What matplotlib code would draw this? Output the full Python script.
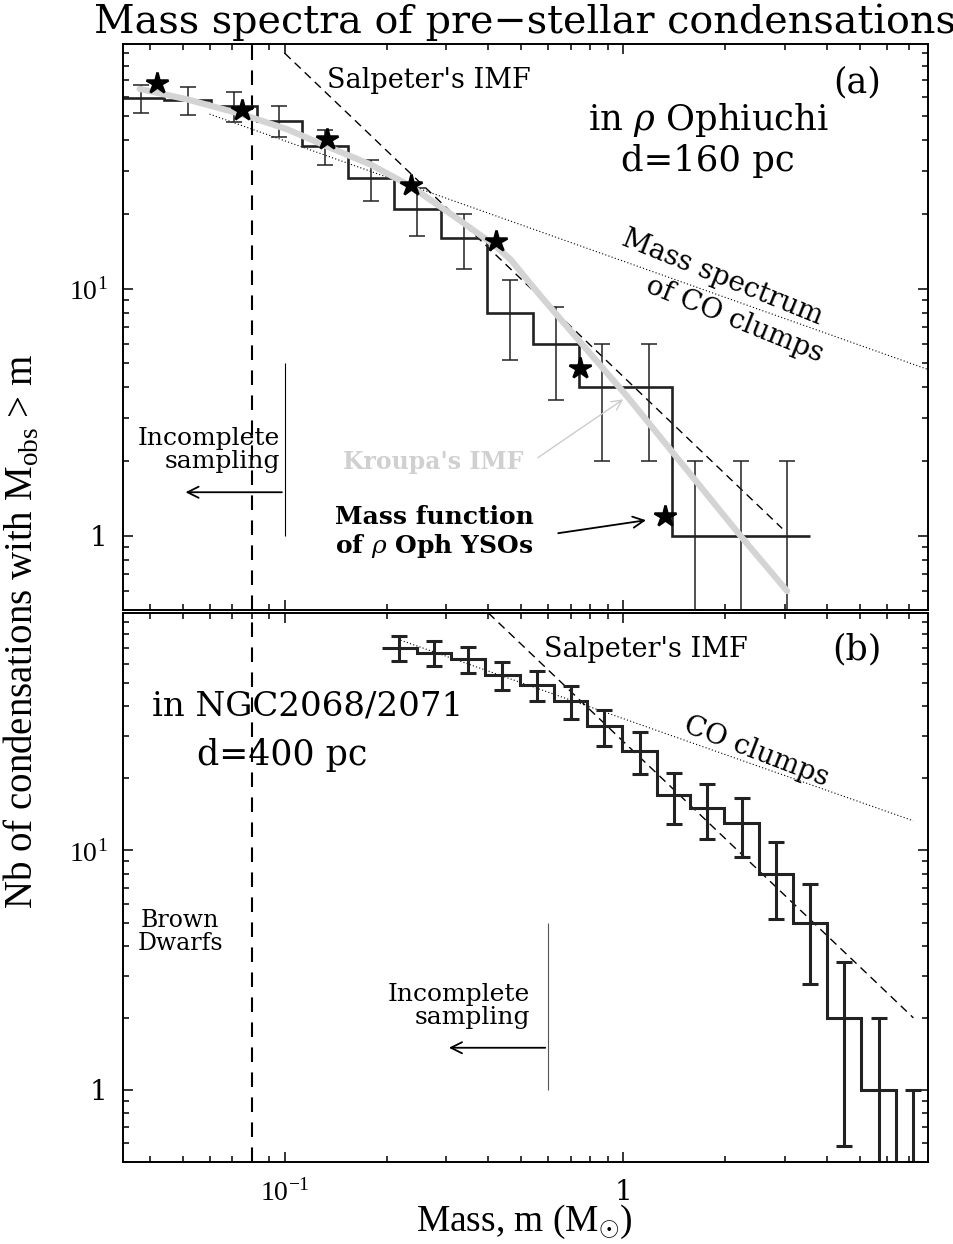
import matplotlib
matplotlib.use("Agg")
import matplotlib.pyplot as plt
from matplotlib.ticker import FixedLocator, FixedFormatter, LogLocator, NullFormatter
import numpy as np

plt.rcParams['font.family'] = ['DejaVu Serif']
plt.rcParams['mathtext.fontset'] = 'custom'
plt.rcParams['mathtext.rm'] = 'Liberation Serif'
plt.rcParams['mathtext.it'] = 'DejaVu Serif:italic'
plt.rcParams['mathtext.bf'] = 'DejaVu Serif:bold'

# ---- panel (a): rho Ophiuchi ----
oph_mass = [0.0377, 0.0517, 0.0710, 0.0964, 0.132, 0.180, 0.246, 0.339,
            0.463, 0.633, 0.867, 1.19, 1.63, 2.23, 3.05]
oph_count = [59, 58, 55, 48, 38, 28, 21, 16, 8, 6, 4, 4, 1, 1, 1]

yso_mass = [0.042, 0.075, 0.133, 0.236, 0.42, 0.748, 1.33]
yso_count = [68, 53, 40.5, 26.4, 15.6, 4.79, 1.2]

kroupa_mass = [0.0373, 0.0518, 0.0752, 0.102, 0.133, 0.180, 0.236, 0.316,
               0.420, 0.466, 0.571, 1.027, 2.22, 3.05]
kroupa_count = [64.5, 58.4, 50.8, 44.2, 37.8, 31.8, 26.0, 19.7,
                14.9, 13.1, 9.33, 3.67, 1.0, 0.597]

salp_a_mass = [0.1, 2.95]
salp_a_count = [90, 1.07]
co_a_mass = [0.06, 7.96]
co_a_count = [51, 4.71]

# ---- panel (b): NGC2068/2071 ----
ngc_mass = [0.218, 0.276, 0.348, 0.44, 0.557, 0.70, 0.877, 1.12,
            1.41, 1.77, 2.24, 2.83, 3.57, 4.50, 5.68, 7.16]
ngc_count = [70, 67, 63, 54, 49, 42, 33, 26, 17, 15, 13, 8, 5, 2, 1, 0]

salp_b_mass = [0.4, 7.2]
salp_b_count = [98, 2.0]
co_b_mass = [0.22, 7.19]
co_b_count = [75.5, 13.3]

bd_limit = 0.08
incomplete_a = [0.1, 0.05]   # completeness limit, arrow tip
incomplete_b = [0.6, 0.3]

xlim = (0.0333, 7.95)
ylim = (0.5, 98)
ink = '#222222'


def draw_hist(ax, mass, count, lw, bar_lw, cap):
    lm = np.log10(mass)
    mid = (lm[1:] + lm[:-1]) / 2
    edges = np.concatenate([[2 * lm[0] - mid[0]], mid, [2 * lm[-1] - mid[-1]]])
    n = np.array(count, float)
    ax.stairs(np.clip(n, 1e-3, None), 10 ** edges, baseline=None,
              color=ink, lw=lw, zorder=2)
    err = np.sqrt(np.maximum(n, 1))
    lo = np.maximum(n - err, ylim[0])
    hi = n + err
    ax.vlines(mass, lo, hi, color=ink, lw=bar_lw, zorder=2)
    ax.plot(mass, lo, '_', ms=cap, mew=bar_lw, color=ink, zorder=2)
    ax.plot(mass, hi, '_', ms=cap, mew=bar_lw, color=ink, zorder=2)


def setup(ax):
    ax.set_xscale('log')
    ax.set_yscale('log')
    ax.set_xlim(*xlim)
    ax.set_ylim(*ylim)
    ax.xaxis.set_major_locator(FixedLocator([0.1, 1]))
    ax.xaxis.set_minor_locator(LogLocator(base=10, subs=np.arange(2, 10), numticks=30))
    ax.yaxis.set_major_locator(FixedLocator([1, 10]))
    ax.yaxis.set_major_formatter(FixedFormatter(['1', '$10^{1}$']))
    ax.yaxis.set_minor_locator(LogLocator(base=10, subs=np.arange(2, 10), numticks=30))
    ax.xaxis.set_minor_formatter(NullFormatter())
    ax.yaxis.set_minor_formatter(NullFormatter())
    ax.tick_params(which='both', direction='in', top=True, right=True, width=1.1)
    ax.tick_params(which='major', length=7.5, labelsize=20)
    ax.tick_params(which='minor', length=4.5)
    ax.tick_params(axis='y', pad=11)
    ax.tick_params(axis='x', pad=12)
    for s in ax.spines.values():
        s.set_linewidth(1.4)
    ax.axvline(bd_limit, color='k', lw=1.5, ls=(0, (7, 5)), zorder=1)


fig = plt.figure(figsize=(9.54, 12.44), dpi=100)
ax1 = fig.add_axes([0.1289, 0.5096, 0.8438, 0.4550])
ax2 = fig.add_axes([0.1289, 0.0659, 0.8438, 0.4413])
setup(ax1)
setup(ax2)
ax1.xaxis.set_major_formatter(NullFormatter())
ax2.xaxis.set_major_formatter(FixedFormatter(['$10^{-1}$', '1']))

# panel (a)
ax1.plot(co_a_mass, co_a_count, color='k', lw=0.8, ls=(0, (1, 2)), zorder=1)
ax1.plot(salp_a_mass, salp_a_count, color='k', lw=1.0, ls=(0, (6, 4)), zorder=1)
draw_hist(ax1, oph_mass, oph_count, lw=1.9, bar_lw=1.1, cap=11)
ax1.plot(kroupa_mass, kroupa_count, color='#d4d4d4', lw=4.5,
         solid_capstyle='round', zorder=3)
ax1.plot(yso_mass, yso_count, '*', ms=16, color='k', mew=1.8, zorder=5)

ax1.vlines(incomplete_a[0], 1, 5, color='k', lw=0.8)
ax1.annotate('', xy=(incomplete_a[1], 1.5), xytext=(incomplete_a[0], 1.5),
             arrowprops=dict(arrowstyle='->', lw=1.3, color='k', mutation_scale=20))
ax1.annotate('', xy=(1.19, 1.16), xytext=(0.631, 1.02),
             arrowprops=dict(arrowstyle='->', lw=1.3, color='k', mutation_scale=20))
ax1.annotate('', xy=(1.016, 3.62), xytext=(0.551, 2.04),
             arrowprops=dict(arrowstyle='->', lw=1.0, color='#cccccc', mutation_scale=18))

t = ax1.transAxes
ax1.text(0.380, 0.935, "Salpeter's IMF", transform=t, ha='center', va='center', fontsize=19.5)
ax1.text(0.912, 0.933, "(a)", transform=t, ha='center', va='center', fontsize=25)
ax1.text(0.727, 0.866, r"in $\rho$ Ophiuchi", transform=t, ha='center', va='center', fontsize=25.5)
ax1.text(0.727, 0.793, "d=160 pc", transform=t, ha='center', va='center', fontsize=25.5)
ax1.text(0.745, 0.587, "Mass spectrum", transform=t, ha='center', va='center',
         fontsize=20, rotation=-22)
ax1.text(0.760, 0.512, "of CO clumps", transform=t, ha='center', va='center',
         fontsize=20, rotation=-22)
ax1.text(0.386, 0.262, "Kroupa's IMF", transform=t, ha='center', va='center',
         fontsize=17, fontweight='bold', color='#d0d0d0')
ax1.text(0.387, 0.137, "Mass function\n" + r"of $\rho$ Oph YSOs", transform=t,
         ha='center', va='center', fontsize=18, fontweight='bold', linespacing=1.1)
ax1.text(0.195, 0.283, "Incomplete\nsampling", transform=t, ha='right', va='center',
         fontsize=18, multialignment='right', linespacing=1.0)

# panel (b)
ax2.plot(co_b_mass, co_b_count, color='k', lw=0.8, ls=(0, (1, 2)), zorder=1)
ax2.plot(salp_b_mass, salp_b_count, color='k', lw=1.0, ls=(0, (6, 4)), zorder=1)
draw_hist(ax2, ngc_mass, ngc_count, lw=2.2, bar_lw=2.2, cap=12)

ax2.vlines(incomplete_b[0], 1, 5, color='#555555', lw=0.8)
ax2.annotate('', xy=(incomplete_b[1], 1.5), xytext=(incomplete_b[0], 1.5),
             arrowprops=dict(arrowstyle='->', lw=1.3, color='k', mutation_scale=20))

t = ax2.transAxes
ax2.text(0.650, 0.933, "Salpeter's IMF", transform=t, ha='center', va='center', fontsize=19.5)
ax2.text(0.912, 0.933, "(b)", transform=t, ha='center', va='center', fontsize=25)
ax2.text(0.229, 0.829, "in NGC2068/2071", transform=t, ha='center', va='center', fontsize=24.5)
ax2.text(0.198, 0.741, "d=400 pc", transform=t, ha='center', va='center', fontsize=25)
ax2.text(0.787, 0.747, "CO clumps", transform=t, ha='center', va='center',
         fontsize=20, rotation=-21)
ax2.text(0.071, 0.419, "Brown\nDwarfs", transform=t, ha='center', va='center',
         fontsize=17, linespacing=1.0)
ax2.text(0.506, 0.284, "Incomplete\nsampling", transform=t, ha='right', va='center',
         fontsize=18, multialignment='right', linespacing=1.0)

fig.text(0.55, 0.982, "Mass spectra of pre\u2212stellar condensations",
         ha='center', va='center', fontsize=28.5)
fig.text(0.023, 0.492, r"Nb of condensations with M$_{\rm obs}$ > m", rotation=90,
         ha='center', va='center', fontsize=28, family='Liberation Serif')
fig.text(0.55, 0.0175, r"Mass, m (M$_{\odot}$)", ha='center', va='center',
         fontsize=27, family='Liberation Serif')

fig.savefig("out.png", dpi=100)
